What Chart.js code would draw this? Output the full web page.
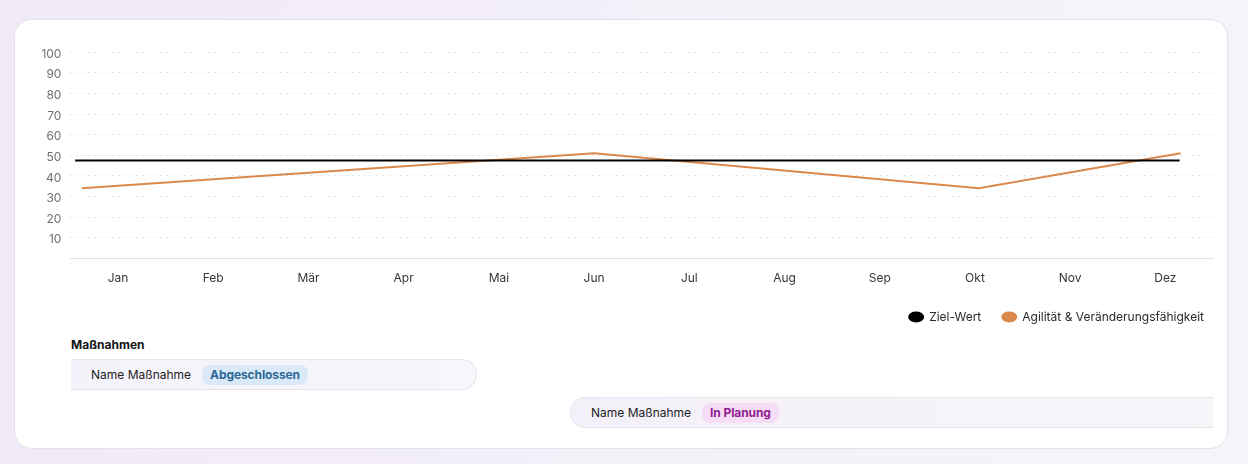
<!DOCTYPE html>
<html lang="de">
<head>
<meta charset="utf-8">
<script src="https://cdn.jsdelivr.net/npm/chart.js@4/dist/chart.umd.min.js"></script>
<style>
  html, body { margin:0; padding:0; }
  body {
    width:1248px; height:464px; overflow:hidden; position:relative;
    font-family: Inter, "Noto Sans", sans-serif;
    background: linear-gradient(100deg, #f0e9f8 0%, #f4f1f9 55%, #f6f4f9 100%);
  }
  .card {
    position:absolute; left:14px; top:19px; width:1212px; height:428px;
    background:#fff; border:1px solid #e3e1e9; border-radius:18px;
  }
  #wrap { position:absolute; left:20px; top:36px; width:1205px; height:297px; }
  .title { position:absolute; left:71px; top:337px; font-size:12px; font-weight:700; color:#15151a; }
  .row {
    position:absolute; height:31px; box-sizing:border-box;
    border:1px solid #e6e4ec; display:flex; align-items:center;
    background: linear-gradient(90deg, #f4f2fa 0%, #f7f6fb 100%);
    font-size:12px; color:#1e1e24;
  }
  .row .name { margin-left:20px; margin-right:11px; }
  .badge { font-weight:700; font-size:12px; padding:3px 8px; border-radius:8px; line-height:14px; letter-spacing:-0.1px; }
  .done { background:#d9e9f7; color:#2d6796; }
  .plan { background:#f6dcf4; color:#8c1d8f; }
</style>
</head>
<body>
<div class="card"></div>
<div id="wrap"><canvas id="chart"></canvas></div>

<div class="title">Maßnahmen</div>
<div class="row" style="left:71px; top:359px; width:406px; border-left:none; border-radius:0 16px 16px 0;">
  <span class="name">Name Maßnahme</span><span class="badge done">Abgeschlossen</span>
</div>
<div class="row" style="left:570px; top:397px; width:643px; border-right:none; border-radius:16px 0 0 16px; background:linear-gradient(90deg,#f4f0f9 0%,#f6f5fa 100%);">
  <span class="name">Name Maßnahme</span><span class="badge plan">In Planung</span>
</div>

<script>
const months = ['Jan','Feb','Mär','Apr','Mai','Jun','Jul','Aug','Sep','Okt','Nov','Dez']

// positions in month units (0 = Jan)
const zielX   = [-0.45, 11.15]
const zielY   = [47.5, 47.5]
const agilX   = [-0.38, 5.0, 9.04, 11.16]
const agilY   = [34, 51, 34, 51]

const yTicks  = [10,20,30,40,50,60,70,80,90,100]

const toPoints = (xs, ys) => xs.map((x, i) => ({ x: x, y: ys[i] }))

Chart.defaults.font.family = 'Inter, "Noto Sans", sans-serif'

const setup = {
      type: 'line',
      data: {
        datasets: [
          {
            label: 'Ziel-Wert',
            data: toPoints(zielX, zielY),
            borderColor: '#000000',
            backgroundColor: '#000000',
            borderWidth: 2,
            pointRadius: 0,
            tension: 0
          },
          {
            label: 'Agilität & Veränderungsfähigkeit',
            data: toPoints(agilX, agilY),
            borderColor: '#db894b',
            backgroundColor: '#db894b',
            borderWidth: 2,
            pointRadius: 0,
            tension: 0
          }
        ]
      },
      options: {
            responsive: true,
            maintainAspectRatio: false,
            animation: false,
            layout: { padding: { top: 14.7 } },
            plugins: {
                  tooltip: { enabled: false },
                  legend: {
                    position: 'bottom',
                    align: 'end',
                    labels: {
                      usePointStyle: true,
                      pointStyle: 'circle',
                      pointStyleWidth: 14,
                      boxHeight: 6.4,
                      padding: 21,
                      color: '#2a2a30',
                      font: { size: 12 }
                    }
                  }
            },
            scales: {
                  x: {
                    type: 'linear', display: false, min: -0.5, max: 11.5
                  },
                  months: {
                    type: 'category', position: 'bottom', labels: months, offset: true,
                    grid: { display: false, drawTicks: false },
                    border: { display: true, color: '#e2e2e6', width: 1 },
                    ticks: { color: '#35353a', font: { size: 12 }, padding: 13, maxRotation: 0 },
                    afterFit: (s) => { s.height = 31.5 }
                  },
                  y: {
                    min: 0, max: 100,
                    afterBuildTicks: (s) => { s.ticks = yTicks.map(v => ({ value: v })) },
                    grid: { color: '#e4e4e8', borderDash: [2, 4], drawTicks: false, lineWidth: 1 },
                    border: { display: false, dash: [2, 4] },
                    ticks: { color: '#707075', font: { size: 12 }, padding: 9, labelOffset: 2 },
                    afterFit: (s) => { s.width = 50.4 }
                  },
                  pad: {
                    position: 'right', display: true,
                    grid: { display: false }, border: { display: false },
                    ticks: { display: false },
                    afterFit: (s) => { s.width = 12 }
                  }
            }
      }
}

new Chart(document.getElementById('chart'), setup)
</script>
</body>
</html>
